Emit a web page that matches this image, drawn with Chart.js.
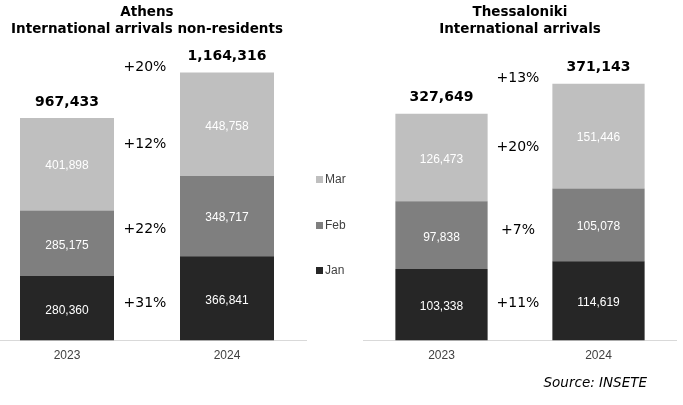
<!DOCTYPE html>
<html>
<head>
<meta charset="utf-8">
<script src="https://cdn.jsdelivr.net/npm/chart.js@4"></script>
<style>
  body { margin: 0; background: #fff; width: 683px; height: 405px; overflow: hidden; position: relative; }
  #athens { position: absolute; left: -13px; top: 0; }
  #thess { position: absolute; left: 305px; top: 0; }
</style>
</head>
<body>
<canvas id="athens" width="320" height="371"></canvas>
<canvas id="thess" width="372" height="405"></canvas>
<script>
const years = ['2023', '2024']
const months = ['Jan', 'Feb', 'Mar']
const colors = ['#262626', '#7f7f7f', '#bfbfbf']

const athensJan = [280360, 366841]
const athensFeb = [285175, 348717]
const athensMar = [401898, 448758]
const athensTotal = [967433, 1164316]
const athensChange = ['+31%', '+22%', '+12%']
const athensTotalChange = '+20%'

const thessJan = [103338, 114619]
const thessFeb = [97838, 105078]
const thessMar = [126473, 151446]
const thessTotal = [327649, 371143]
const thessChange = ['+11%', '+7%', '+20%']
const thessTotalChange = '+13%'

const VERDANA = '"DejaVu Sans", Verdana, sans-serif'
const ARIAL = '"Liberation Sans", Arial, sans-serif'

function fmt(v) {
    return String(v).replace(/\B(?=(\d{3})+(?!\d))/g, ',')
}

// values inside the bars, totals on top, % change between the two bars
const barLabels = {
    id: 'barLabels',
    afterDatasetsDraw(chart, args, opts) {
        const ctx = chart.ctx
        ctx.save()
        ctx.textAlign = 'center'
        ctx.textBaseline = 'middle'

        ctx.font = '12px ' + ARIAL
        ctx.fillStyle = '#ffffff'
        chart.data.datasets.forEach((ds, i) => {
            chart.getDatasetMeta(i).data.forEach((bar, j) => {
                ctx.fillText(fmt(ds.data[j]), bar.x, (bar.y + bar.base) / 2 + 2)
            })
        })

        const top = chart.getDatasetMeta(chart.data.datasets.length - 1).data
        ctx.font = 'bold 14px ' + VERDANA
        ctx.fillStyle = '#000000'
        opts.totals.forEach((t, j) => ctx.fillText(fmt(t), top[j].x, top[j].y - 16))

        ctx.font = '14px ' + VERDANA
        const mid = (top[0].x + top[1].x) / 2 - 2
        opts.changes.forEach((c, i) => {
            const bars = chart.getDatasetMeta(i).data
            const cy = bars.reduce((s, b) => s + (b.y + b.base) / 2, 0) / bars.length
            ctx.fillText(c, mid, cy)
        })
        ctx.fillText(opts.totalChange, mid, Math.min(top[0].y, top[1].y) - 5)
        ctx.restore()
    }
}

// legend sitting between the two charts + source note
const sideLegend = {
    id: 'sideLegend',
    afterDraw(chart) {
        const ctx = chart.ctx
        const x = chart.chartArea.left - 47
        const rows = [270, 225, 179]
        ctx.save()
        ctx.font = '12px ' + ARIAL
        ctx.textBaseline = 'middle'
        ctx.textAlign = 'left'
        chart.data.datasets.forEach((ds, i) => {
            ctx.fillStyle = ds.backgroundColor
            ctx.fillRect(x, rows[i] - 3, 7, 7)
            ctx.fillStyle = '#404040'
            ctx.fillText(ds.label, x + 9, rows[i] + 1)
        })
        ctx.font = 'italic 13.5px ' + VERDANA
        ctx.fillStyle = '#000000'
        ctx.textAlign = 'right'
        ctx.fillText('Source: INSETE', chart.chartArea.right - 30, 383)
        ctx.restore()
    }
}

function makeChart(id, title, jan, feb, mar, max, labelOpts, padLeft, padBottom, plugins) {
    return new Chart(document.getElementById(id), {
        type: 'bar',
        data: {
            labels: years,
            datasets: [jan, feb, mar].map((d, i) => ({
                label: months[i],
                data: d,
                backgroundColor: colors[i],
                barPercentage: 0.5875,
                categoryPercentage: 1
            }))
        },
        options: {
            responsive: false,
            animation: false,
            layout: { padding: { left: padLeft, right: 0, top: 0, bottom: padBottom } },
            plugins: {
                legend: { display: false },
                tooltip: { enabled: false },
                title: {
                    display: true,
                    text: title,
                    color: '#000000',
                    font: { family: VERDANA, size: 13.5, weight: 'bold', lineHeight: 1.25 },
                    padding: { top: 4, bottom: 2 }
                },
                barLabels: labelOpts
            },
            scales: {
                x: {
                    stacked: true,
                    grid: { display: false, drawTicks: false },
                    border: { display: true, color: '#d9d9d9' },
                    ticks: { color: '#404040', font: { family: ARIAL, size: 12 }, padding: 8 }
                },
                y: { stacked: true, display: false, min: 0, max: max }
            }
        },
        plugins: plugins
    })
}

makeChart('athens', ['Athens', 'International arrivals non-residents'],
    athensJan, athensFeb, athensMar, 1306900,
    { totals: athensTotal, changes: athensChange, totalChange: athensTotalChange },
    0, 0, [barLabels])

makeChart('thess', ['Thessaloniki', 'International arrivals'],
    thessJan, thessFeb, thessMar, 434700,
    { totals: thessTotal, changes: thessChange, totalChange: thessTotalChange },
    58, 34, [barLabels, sideLegend])
</script>
</body>
</html>
